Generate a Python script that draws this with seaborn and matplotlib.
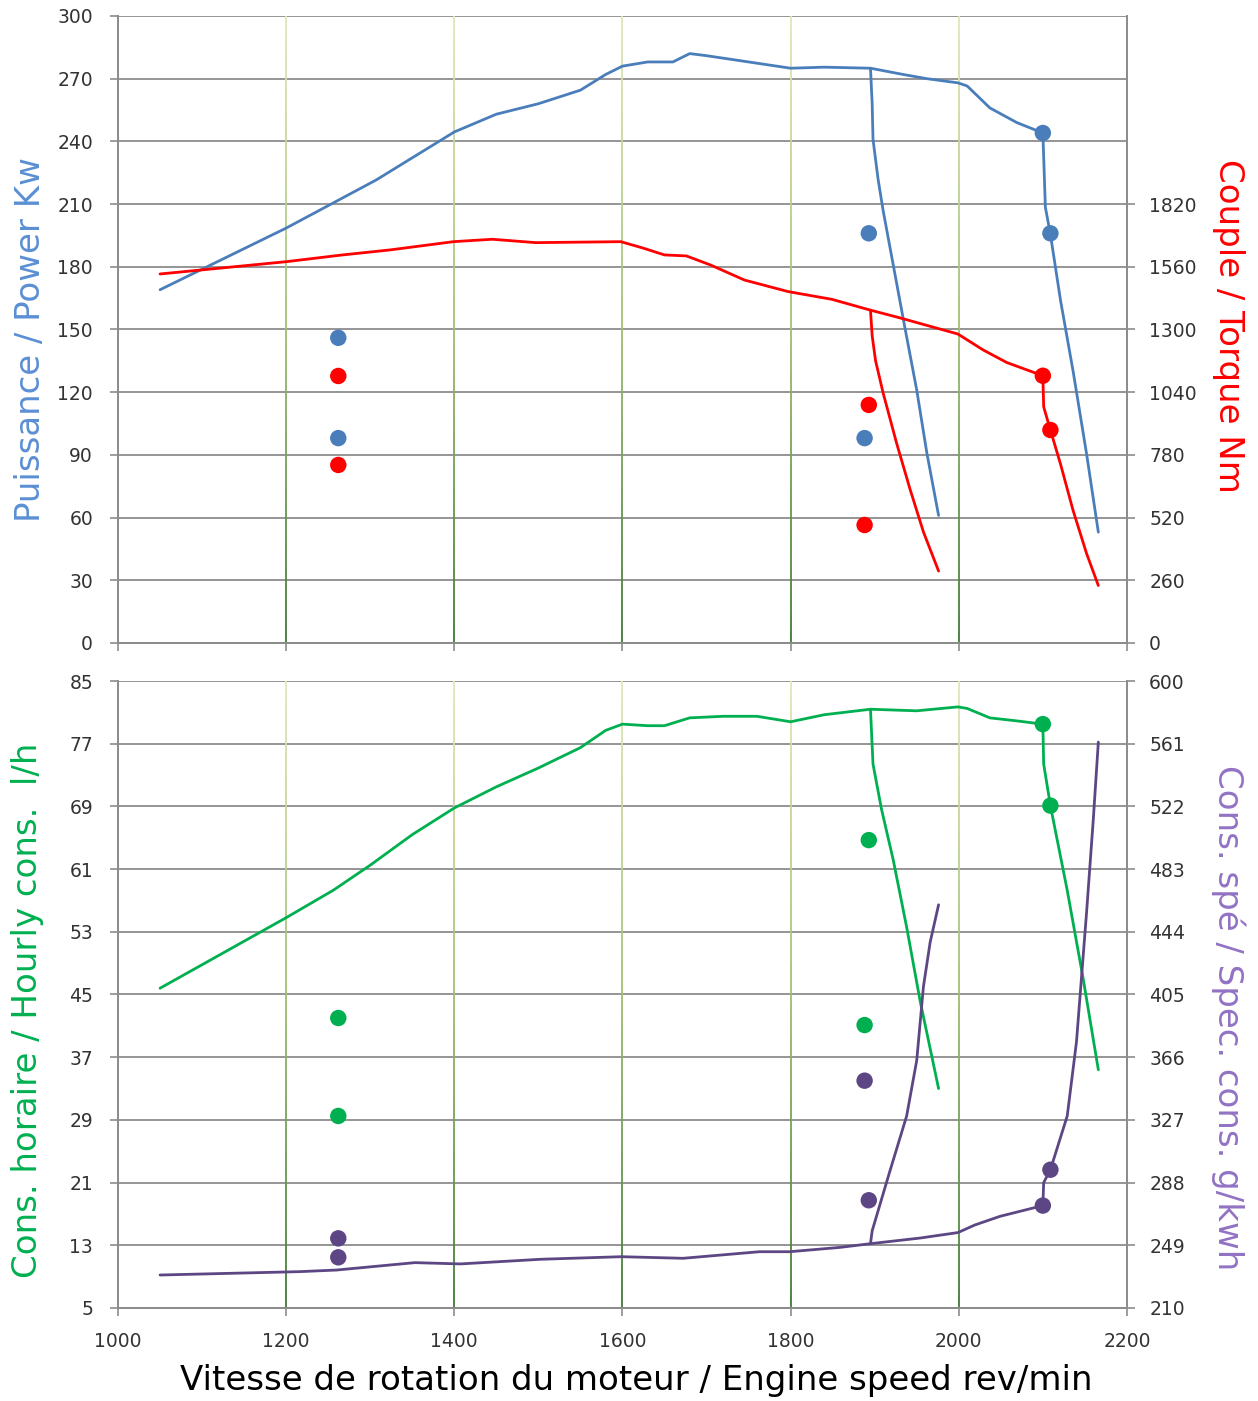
import numpy as np
import matplotlib
matplotlib.use('Agg')
import matplotlib.pyplot as plt
import seaborn as sns
from matplotlib.collections import LineCollection
from matplotlib.colors import LinearSegmentedColormap

# ---- data ----
# power (kW): full load curve + governor droop, second droop branch, measured points
power_main_rpm = [1050, 1200, 1307, 1400, 1450, 1500, 1550, 1580, 1600, 1630, 1660, 1680, 1700,
                  1750, 1800, 1840, 1895, 1934, 1962, 1999, 2010, 2037, 2069, 2100,
                  2101, 2103, 2109, 2121, 2136, 2152, 2166]
power_main_kw = [169, 198.5, 221.5, 244.5, 253, 258, 264.5, 272, 276, 278, 278, 282, 281,
                 278, 275, 275.5, 275, 272, 270, 268, 266.5, 256, 249, 244,
                 232.5, 208.5, 195.5, 164, 130, 90.5, 53]
power_droop_rpm = [1895, 1897, 1898, 1904, 1910, 1922, 1934, 1950, 1962, 1976]
power_droop_kw = [275, 258, 241, 222, 207, 181, 155, 121, 91, 61]
power_dot_rpm = [1262, 1262, 1893, 1888, 2100, 2109]
power_dot_kw = [146, 98, 196, 98, 244, 196]

# torque (Nm)
torque_main_rpm = [1050, 1200, 1267, 1324, 1399, 1445, 1497, 1598, 1624, 1650, 1676, 1705, 1745,
                   1797, 1849, 1895, 1930, 1999, 2029, 2057, 2100,
                   2101, 2109, 2121, 2136, 2152, 2166]
torque_main_nm = [1530, 1581, 1609, 1630, 1664, 1674, 1660, 1664, 1638, 1609, 1605, 1567, 1505,
                  1457, 1425, 1380, 1348, 1281, 1215, 1163, 1108,
                  979, 883, 742, 549, 371, 238]
torque_droop_rpm = [1895, 1897, 1901, 1910, 1926, 1942, 1958, 1976]
torque_droop_nm = [1380, 1274, 1171, 1037, 829, 638, 460, 298]
torque_dot_rpm = [1262, 1262, 1893, 1888, 2100, 2109]
torque_dot_nm = [1107, 738, 987, 489, 1108, 883]

# hourly consumption (l/h)
hourly_main_rpm = [1050, 1200, 1256, 1300, 1350, 1400, 1450, 1500, 1550, 1580, 1600, 1630, 1650,
                   1680, 1720, 1760, 1800, 1840, 1895, 1950, 1999, 2010, 2037, 2070, 2100,
                   2101, 2109, 2129, 2148, 2166]
hourly_main_lh = [45.8, 54.8, 58.3, 61.5, 65.4, 68.8, 71.5, 73.9, 76.5, 78.7, 79.5, 79.3, 79.3,
                  80.3, 80.5, 80.5, 79.8, 80.7, 81.4, 81.2, 81.7, 81.5, 80.3, 79.9, 79.5,
                  74.4, 69.1, 58.3, 47, 35.4]
hourly_droop_rpm = [1895, 1898, 1908, 1922, 1938, 1954, 1976]
hourly_droop_lh = [81.4, 74.4, 68.7, 62.2, 53.6, 44.2, 33]
hourly_dot_rpm = [1262, 1262, 1893, 1888, 2100, 2109]
hourly_dot_lh = [42, 29.5, 64.7, 41.1, 79.5, 69.1]

# specific consumption (g/kWh)
spec_main_rpm = [1050, 1216, 1260, 1353, 1407, 1503, 1599, 1672, 1763, 1799, 1859, 1895, 1954,
                 1999, 2019, 2049, 2100, 2101, 2109, 2129, 2140, 2152, 2160, 2166]
spec_main_gkwh = [230.5, 232.6, 233.6, 238.2, 237.4, 240.3, 241.9, 240.9, 245, 245, 247.7, 250, 253.5,
                  256.9, 261.6, 267, 273.7, 288, 296, 329.4, 375.5, 456, 513.8, 562]
spec_droop_rpm = [1895, 1897, 1918, 1938, 1950, 1958, 1966, 1976]
spec_droop_gkwh = [250, 258, 295, 329.4, 364, 410, 437.6, 460.8]
spec_dot_rpm = [1262, 1262, 1888, 1893, 2100, 2109]
spec_dot_gkwh = [253.3, 241.5, 351.4, 277, 273.7, 296]

rpm_ticks = [1000, 1200, 1400, 1600, 1800, 2000, 2200]
power_ticks = list(range(0, 301, 30))
torque_ticks = list(range(0, 1821, 260))
hourly_ticks = list(range(5, 86, 8))
spec_ticks = list(range(210, 601, 39))

BLUE = '#4a7ebb'
RED = '#ff0000'
GREEN = '#00b050'
PURPLE = '#5c4784'
GRID = '#8c8c8c'

sns.set_style('white')
plt.rcParams['font.family'] = ['DejaVu Sans']

fig = plt.figure(figsize=(12.58, 14.01), dpi=100)
ax1 = fig.add_axes([0.0938, 0.5411, 0.802, 0.4475])
ax3 = fig.add_axes([0.0938, 0.0664, 0.802, 0.4475])
ax2 = ax1.twinx()
ax4 = ax3.twinx()

vgrid = LinearSegmentedColormap.from_list('vg', ['#e2e6b8', '#9fbf70', '#3f7a35'])


def style_axes(ax, twin, yticks, ylim, tyticks, tylim, show_x):
    ax.set_xlim(1000, 2200)
    ax.set_ylim(*ylim)
    twin.set_ylim(*tylim)
    ax.set_xticks(rpm_ticks)
    ax.set_yticks(yticks)
    twin.set_yticks(tyticks)
    ax.yaxis.grid(True, color=GRID, lw=1.3)
    ax.xaxis.grid(False)
    ax.set_axisbelow(True)
    for a in (ax, twin):
        for side in ['left', 'right', 'bottom']:
            a.spines[side].set_color(GRID)
            a.spines[side].set_linewidth(1.3)
        a.spines['top'].set_visible(False)
        a.tick_params(direction='out', length=6, width=1.2, color=GRID,
                      labelsize=13.5, labelcolor='#333333')
    ax.tick_params(axis='y', left=True, pad=12)
    ax.tick_params(axis='x', bottom=True, pad=11, labelbottom=show_x)
    twin.tick_params(axis='y', right=True, pad=10)
    ax.set_xlabel('')
    ax.set_ylabel('')
    twin.set_ylabel('')
    # vertical gridlines fading from light olive to dark green
    n = 60
    ys = np.linspace(1, 0, n + 1)
    cols = vgrid(np.linspace(0, 1, n))
    for x in rpm_ticks[1:-1]:
        segs = [[(x, ys[i]), (x, ys[i + 1])] for i in range(n)]
        lc = LineCollection(segs, colors=cols, lw=1.3, transform=ax.get_xaxis_transform(), zorder=0.8)
        ax.add_collection(lc)


LW = 2.0
DOT = 140

# top panel: power + torque
sns.lineplot(x=power_main_rpm, y=power_main_kw, sort=False, estimator=None, color=BLUE, lw=LW, ax=ax1)
sns.lineplot(x=power_droop_rpm, y=power_droop_kw, sort=False, estimator=None, color=BLUE, lw=LW, ax=ax1)
sns.scatterplot(x=power_dot_rpm, y=power_dot_kw, color=BLUE, s=DOT, edgecolor='none', ax=ax1, zorder=5)
sns.lineplot(x=torque_main_rpm, y=torque_main_nm, sort=False, estimator=None, color=RED, lw=LW, ax=ax2)
sns.lineplot(x=torque_droop_rpm, y=torque_droop_nm, sort=False, estimator=None, color=RED, lw=LW, ax=ax2)
sns.scatterplot(x=torque_dot_rpm, y=torque_dot_nm, color=RED, s=DOT, edgecolor='none', ax=ax2, zorder=5)

# bottom panel: hourly + specific consumption
sns.lineplot(x=hourly_main_rpm, y=hourly_main_lh, sort=False, estimator=None, color=GREEN, lw=LW, ax=ax3)
sns.lineplot(x=hourly_droop_rpm, y=hourly_droop_lh, sort=False, estimator=None, color=GREEN, lw=LW, ax=ax3)
sns.scatterplot(x=hourly_dot_rpm, y=hourly_dot_lh, color=GREEN, s=DOT, edgecolor='none', ax=ax3, zorder=5)
sns.lineplot(x=spec_main_rpm, y=spec_main_gkwh, sort=False, estimator=None, color=PURPLE, lw=LW, ax=ax4)
sns.lineplot(x=spec_droop_rpm, y=spec_droop_gkwh, sort=False, estimator=None, color=PURPLE, lw=LW, ax=ax4)
sns.scatterplot(x=spec_dot_rpm, y=spec_dot_gkwh, color=PURPLE, s=DOT, edgecolor='none', ax=ax4, zorder=5)

style_axes(ax1, ax2, power_ticks, (0, 300), torque_ticks, (0, 2600), False)
style_axes(ax3, ax4, hourly_ticks, (5, 85), spec_ticks, (210, 600), True)

fig.text(0.0246, 0.7573, 'Puissance / Power Kw', rotation=90, ha='center', va='center',
         fontsize=24.5, color='#5b8fd4')
fig.text(0.9762, 0.7673, 'Couple / Torque Nm', rotation=-90, ha='center', va='center',
         fontsize=24.5, color=RED)
fig.text(0.0215, 0.279, 'Cons. horaire / Hourly cons.  l/h', rotation=90, ha='center', va='center',
         fontsize=24.5, color=GREEN)
fig.text(0.9762, 0.274, 'Cons. spé / Spec. cons. g/kwh', rotation=-90, ha='center', va='center',
         fontsize=24.5, color='#9273c4')
fig.text(0.506, 0.0143, 'Vitesse de rotation du moteur / Engine speed rev/min', ha='center', va='center',
         fontsize=24.5, color='black')

fig.savefig('out.png', dpi=100, facecolor='white')
plt.close(fig)
